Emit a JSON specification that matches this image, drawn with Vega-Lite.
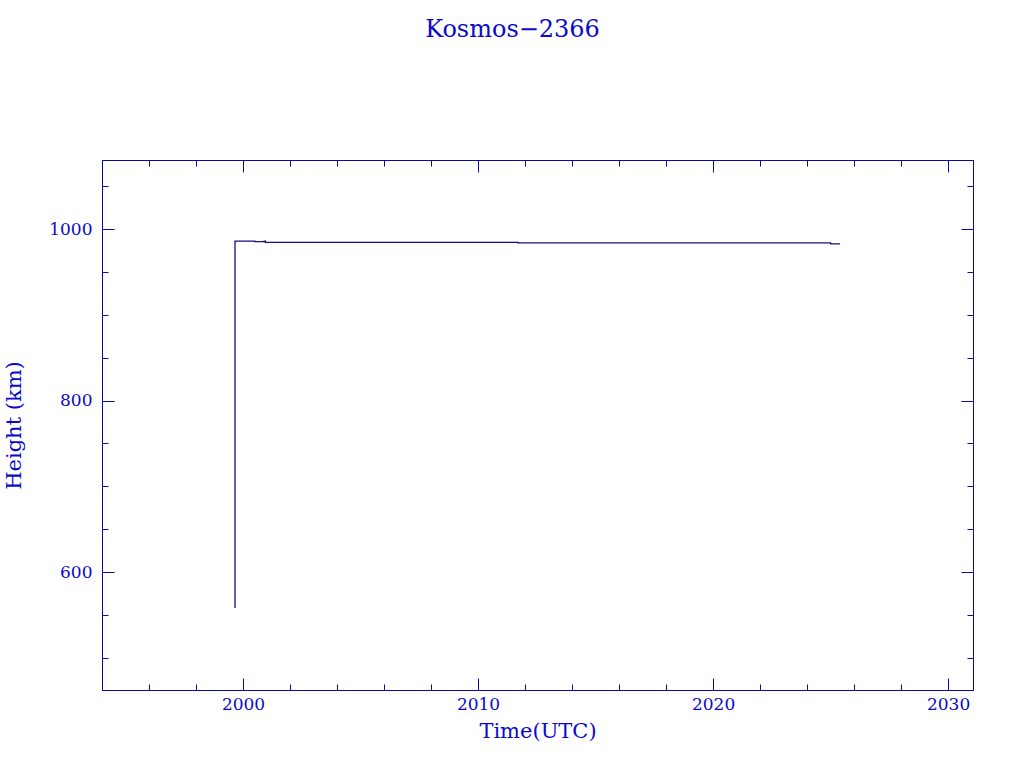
{
  "$schema": "https://vega.github.io/schema/vega-lite/v6.json",
  "autosize": {"type": "none"},
  "padding": {"left": 102, "top": 160, "right": 51, "bottom": 78},
  "width": 871,
  "height": 530,
  "background": "white",
  "title": {
    "text": "Kosmos\u22122366",
    "font": "DejaVu Serif",
    "fontSize": 24,
    "fontWeight": "normal",
    "color": "#0a0ac8",
    "anchor": "middle",
    "frame": "group",
    "dx": -25,
    "offset": 118
  },
  "config": {
    "view": {"stroke": "#0a0aa0", "strokeWidth": 1},
    "axis": {
      "domainColor": "#0a0aa0",
      "tickColor": "#0a0aa0",
      "labelColor": "#0a0ac8",
      "titleColor": "#0a0ac8",
      "labelFont": "DejaVu Serif",
      "titleFont": "DejaVu Serif",
      "labelFontSize": 17,
      "titleFontSize": 21,
      "titleFontWeight": "normal",
      "grid": false
    }
  },
  "data": {
    "values": [
      {"i": 0, "year": 1999.66, "height": 558},
      {"i": 1, "year": 1999.66, "height": 986.0},
      {"i": 2, "year": 2000.5, "height": 986.0},
      {"i": 3, "year": 2000.5, "height": 985.4},
      {"i": 4, "year": 2000.9, "height": 985.4},
      {"i": 5, "year": 2000.9, "height": 986.0},
      {"i": 6, "year": 2000.95, "height": 986.0},
      {"i": 7, "year": 2000.95, "height": 984.6},
      {"i": 8, "year": 2011.7, "height": 984.5},
      {"i": 9, "year": 2011.7, "height": 983.8},
      {"i": 10, "year": 2025.0, "height": 983.8},
      {"i": 11, "year": 2025.0, "height": 982.6},
      {"i": 12, "year": 2025.4, "height": 982.6}
    ]
  },
  "resolve": {"axis": {"x": "independent", "y": "independent"}},
  "layer": [
    {
      "mark": {"type": "line", "color": "#101080", "strokeWidth": 1.3, "clip": true},
      "encoding": {
        "x": {
          "field": "year", "type": "quantitative",
          "scale": {"domain": [1994, 2031.06], "nice": false, "zero": false},
          "axis": {
            "orient": "bottom",
            "title": "Time(UTC)",
            "values": [1996, 1998, 2000, 2002, 2004, 2006, 2008, 2010, 2012, 2014, 2016, 2018, 2020, 2022, 2024, 2026, 2028, 2030],
            "format": "d",
            "labelExpr": "datum.value % 10 === 0 ? datum.label : ''",
            "tickSize": {"condition": {"test": "datum.value % 10 === 0", "value": -12}, "value": -6},
            "labelPadding": 18,
            "titlePadding": 8
          }
        },
        "y": {
          "field": "height", "type": "quantitative",
          "scale": {"domain": [462.4, 1080.5], "nice": false, "zero": false},
          "axis": {
            "orient": "left",
            "title": "Height (km)",
            "values": [500, 550, 600, 650, 700, 750, 800, 850, 900, 950, 1000, 1050],
            "format": "d",
            "labelExpr": "datum.value % 200 === 0 ? datum.label : ''",
            "tickSize": {"condition": {"test": "datum.value % 200 === 0", "value": -12}, "value": -6},
            "labelPadding": 22,
            "titlePadding": 24
          }
        },
        "order": {"field": "i", "type": "quantitative"}
      }
    },
    {
      "mark": {"type": "line", "color": "#101080", "strokeWidth": 1.3, "opacity": 0, "clip": true},
      "encoding": {
        "x": {
          "field": "year", "type": "quantitative",
          "axis": {
            "orient": "top",
            "title": null,
            "labels": false,
            "values": [1996, 1998, 2000, 2002, 2004, 2006, 2008, 2010, 2012, 2014, 2016, 2018, 2020, 2022, 2024, 2026, 2028, 2030],
            "tickSize": {"condition": {"test": "datum.value % 10 === 0", "value": -12}, "value": -6}
          }
        },
        "y": {
          "field": "height", "type": "quantitative",
          "axis": {
            "orient": "right",
            "title": null,
            "labels": false,
            "values": [500, 550, 600, 650, 700, 750, 800, 850, 900, 950, 1000, 1050],
            "tickSize": {"condition": {"test": "datum.value % 200 === 0", "value": -12}, "value": -6}
          }
        },
        "order": {"field": "i", "type": "quantitative"}
      }
    }
  ]
}
